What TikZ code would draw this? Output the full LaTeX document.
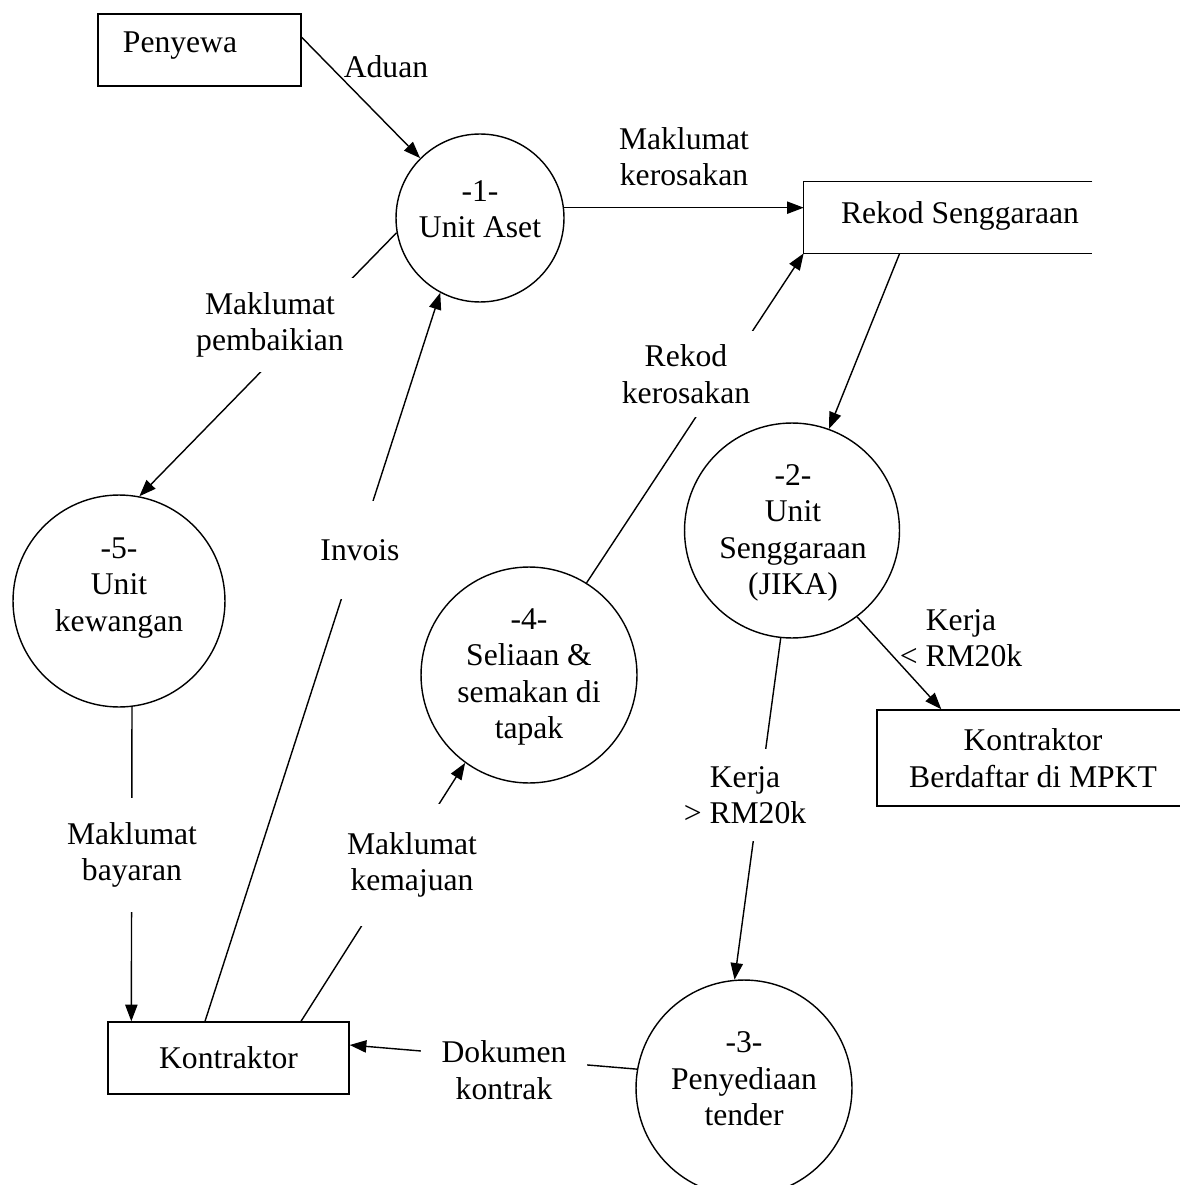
\documentclass[tikz,border=0pt]{standalone}
\usepackage{fontspec}
\setmainfont{Liberation Serif}
\usetikzlibrary{arrows.meta,calc}

\begin{document}
\begin{tikzpicture}[x=0.02cm,y=-0.02cm,
  every node/.style={font=\fontsize{18}{20.7}\selectfont, align=center},
  entity/.style={draw, line width=0.8pt, inner sep=0pt},
  proc/.style={circle, draw, line width=0.8pt, inner sep=0pt},
  ptext/.style={inner sep=0pt},
  flow/.style={line width=0.8pt, -{Triangle[length=9.5pt,width=7pt]}},
  lbl/.style={fill=white, inner sep=0pt},
  note/.style={inner sep=0pt}
]
\useasboundingbox[fill=white] (0,0) rectangle (1179,1185);

% external entities
\node[entity, minimum width=4.06cm, minimum height=1.44cm] (pen) at (199.5,50) {};
\node[ptext] (pentxt) at (180,46) {Penyewa};
\node[entity, minimum width=4.82cm, minimum height=1.44cm] (kon) at (228.5,1058) {Kontraktor};
\node[entity, minimum width=6.24cm, minimum height=1.92cm] (kbd) at (1033,758) {Kontraktor\\Berdaftar di MPKT};

% data store (open on the right)
\node[minimum width=5.76cm, minimum height=1.42cm, inner sep=0pt] (rekod) at (948,217.5) {};
\draw[line width=0.8pt] (rekod.north east) -- (rekod.north west) -- (rekod.south west) -- (rekod.south east);
\node[ptext] (rekodtxt) at (960,216) {Rekod Senggaraan};

% processes
\node[proc, minimum size=3.36cm] (c1) at (480,218) {};
\node[ptext] (t1) at (480,209) {-1-\\Unit Aset};
\node[proc, minimum size=4.30cm] (c2) at (792,530.5) {};
\node[ptext] (t2) at (793,533) {-2-\\Unit\\Senggaraan\\(JIKA)};
\node[proc, minimum size=4.32cm] (c3) at (744,1088) {};
\node[ptext] (t3) at (744,1079) {-3-\\Penyediaan\\tender};
\node[proc, minimum size=4.32cm] (c4) at (529,675) {};
\node[ptext] (t4) at (529,677) {-4-\\Seliaan \&\\semakan di\\tapak};
\node[proc, minimum size=4.24cm] (c5) at (119,601) {};
\node[ptext] (t5) at (119,588) {-5-\\Unit\\kewangan};

% flows
\draw[flow] ($(pen.north east)+(0,24)$) -- (c1.135);
\draw[flow] (c1.7) -- (c1.7 -| rekod.west);
\draw[flow] ($(rekod.south west)+(96,0)$) -- (c2.70);
\draw[flow] (c2.307) -- ($(kbd.north west)+(65,0)$);
\draw[flow] (c2.264) -- (c3.95);
\draw[flow] (c3.170) -- ($(kon.east)+(0,-13)$);
\draw[flow] (c4.58) -- (rekod.south west);
\draw[flow] ($(kon.north)+(72.5,0)$) -- (c4.234);
\draw[flow] ($(kon.north)+(-23.5,0)$) -- (c1.242);
\draw[flow] (c1.190) -- (c5.79);
\draw[flow] (c5.277) -- ($(kon.north west)+(24,0)$);

% flow labels
\node[note] (laduan) at (386,67) {Aduan};
\node[note] (lkero) at (684,157) {Maklumat\\kerosakan};
\node[note] (lkecil) at (961,638) {Kerja\\< RM20k};
\node[lbl, inner xsep=10pt, inner ysep=8pt] (lrekod) at (686,374) {Rekod\\kerosakan};
\node[lbl, inner xsep=6pt, inner ysep=8pt] (lpemb) at (270,325) {Maklumat\\pembaikian};
\node[lbl, inner xsep=6pt, inner ysep=22pt] (linv) at (360,550) {Invois};
\node[lbl, inner xsep=6pt, inner ysep=14pt] (lbayar) at (132,855) {Maklumat\\bayaran};
\node[lbl, inner xsep=6pt, inner ysep=16pt] (lmaju) at (412,865) {Maklumat\\kemajuan};
\node[lbl, inner xsep=6pt, inner ysep=10pt] (lbesar) at (745,795) {Kerja\\> RM20k};
\node[lbl, inner xsep=12pt, inner ysep=6pt] (ldok) at (504,1070) {Dokumen\\kontrak};
\end{tikzpicture}
\end{document}
